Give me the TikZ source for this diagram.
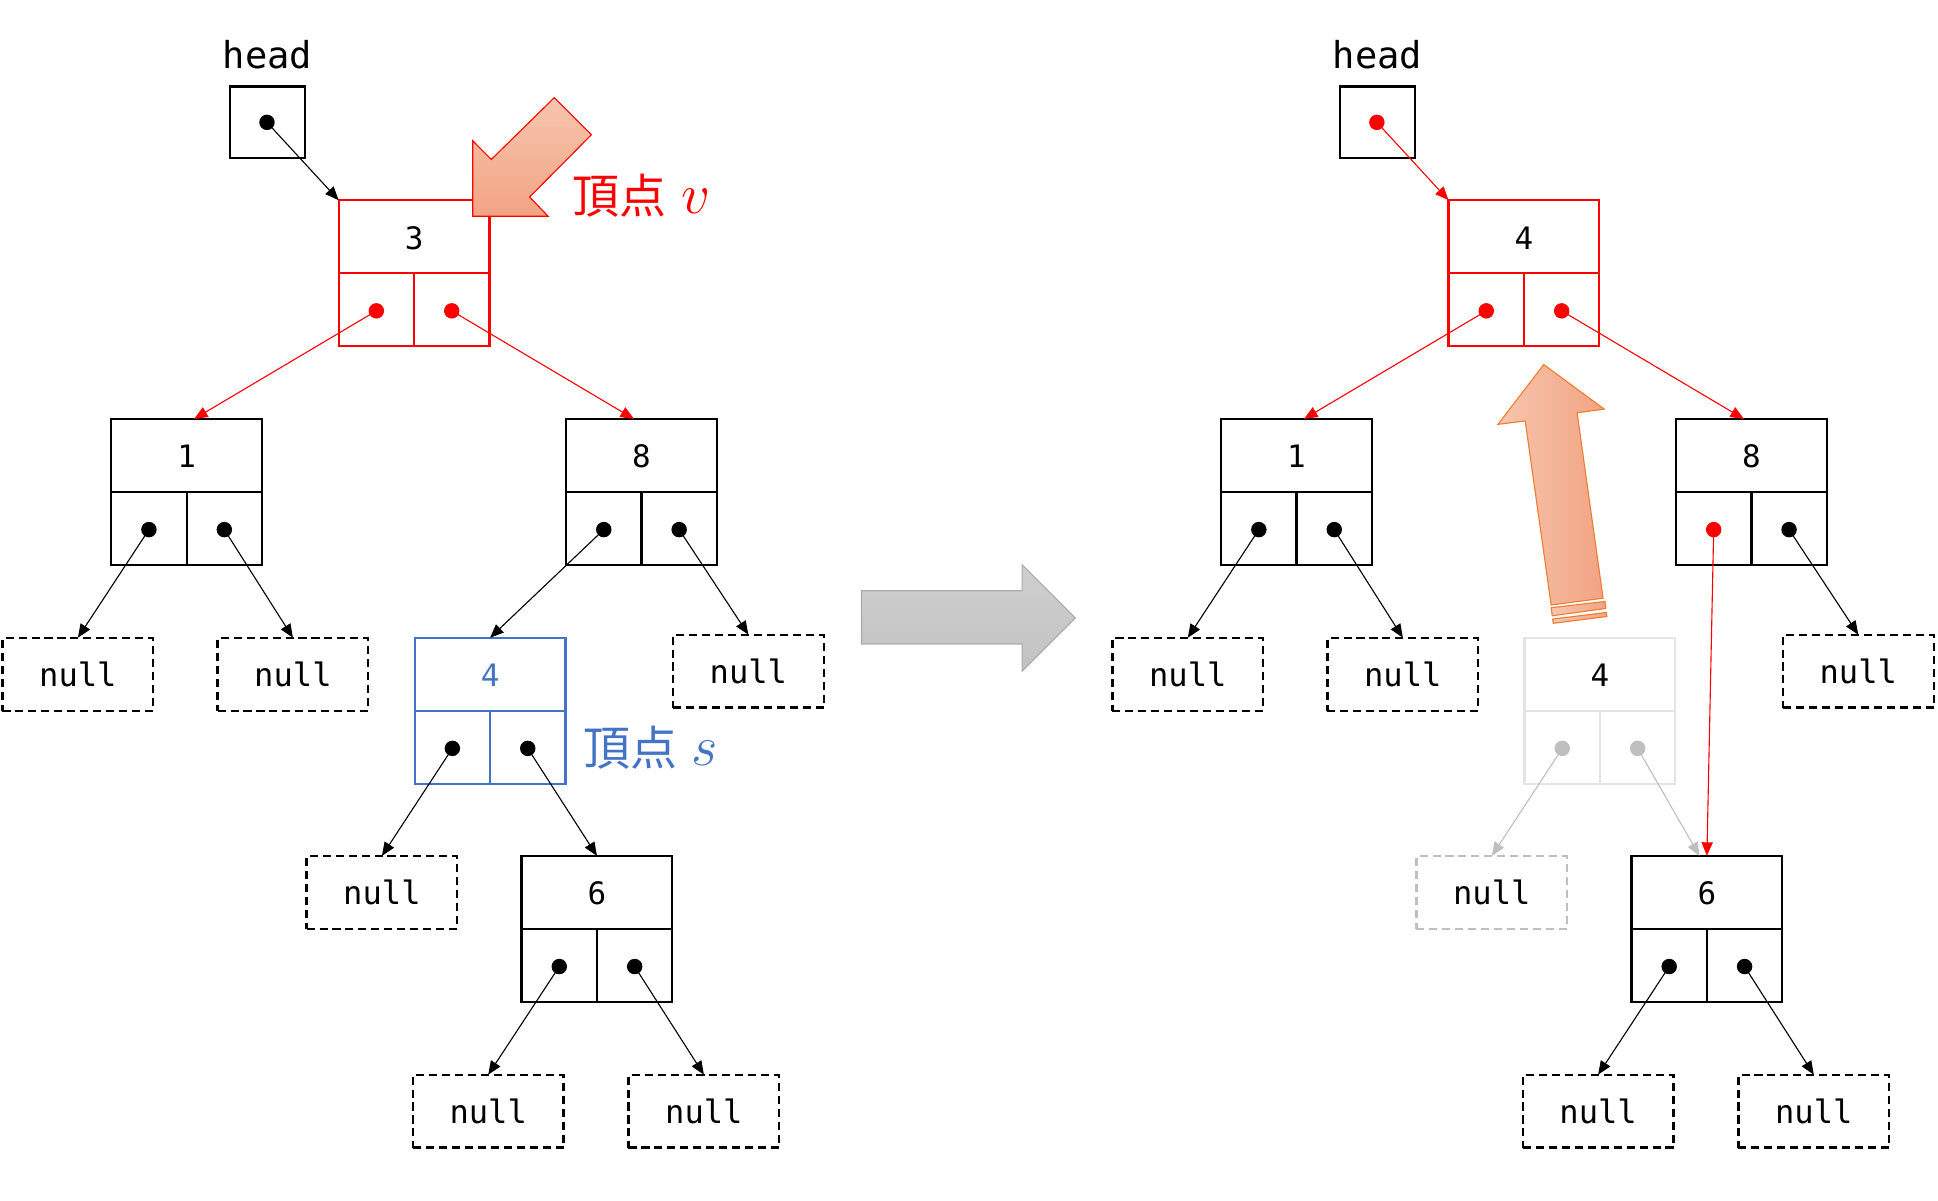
\documentclass[tikz,border=0pt]{standalone}
\usepackage{graphicx}
\usepackage{fontspec}
\setmonofont{DejaVu Sans Mono}
\newfontfamily\cjk{Noto Sans CJK JP}
\usetikzlibrary{arrows.meta,calc}
\definecolor{myred}{HTML}{FF0000}
\definecolor{myblue}{HTML}{4472C4}
\definecolor{fadebox}{HTML}{E4E4E4}
\definecolor{fadedot}{HTML}{BFBFBF}
\definecolor{arrline}{HTML}{ED7D31}
\definecolor{salmonA}{HTML}{F7C6AE}
\definecolor{salmonB}{HTML}{F2A383}
\definecolor{grayA}{HTML}{CFCFCF}
\definecolor{grayB}{HTML}{C2C2C2}
\definecolor{grayL}{HTML}{ABABAB}
\tikzset{
  tbox/.style={rectangle, minimum width=122pt, minimum height=118pt, inner sep=0pt, outer sep=0pt, line width=1.8pt},
  nullbox/.style={rectangle, draw, dash pattern=on 6.5pt off 4pt, line width=1.9pt, minimum width=122pt, minimum height=59pt, inner sep=0pt, outer sep=0pt, font=\ttfamily\fontsize{26}{30}\selectfont},
  valtxt/.style={font=\ttfamily\fontsize{25}{30}\selectfont, inner sep=0pt},
  headtxt/.style={font=\ttfamily\fontsize{30}{36}\selectfont, inner sep=0pt},
  ptr/.style={-{Triangle[length=11pt,width=9pt]}, line width=0.9pt},
  dotn/.style={circle, inner sep=0pt, minimum size=12.5pt, draw=none},
  headbox/.style={rectangle, draw, line width=1.8pt, minimum width=61pt, minimum height=58pt, inner sep=0pt, outer sep=0pt},
  lbl/.style={font=\cjk\fontsize{38}{44}\selectfont, inner sep=0pt, anchor=west},
}
\newcommand\bigmath[1]{\scalebox{1.85}{\fontsize{24.88}{28}\selectfont$#1$}}
% name, cx, cy, value, box colour, text colour, left dot colour, right dot colour
\newcommand\treenode[8]{%
  \node[tbox, draw=#5] (#1) at (#2,#3) {};
  \draw[#5, line width=1.8pt] (#1.west) -- (#1.east);
  \draw[#5, line width=1.8pt] (#1.center) -- (#1.south);
  \node[valtxt, text=#6] (#1-v) at ($(#1.north)!0.5!(#1.center)+(0,1)$) {#4};
  \node[dotn, fill=#7] (#1-l) at ($(#1.south west)!0.5!(#1.center)+(0,1)$) {};
  \node[dotn, fill=#8] (#1-r) at ($(#1.south east)!0.5!(#1.center)+(0,1)$) {};
}
\begin{document}
\begin{tikzpicture}[x=1pt,y=-1pt]
\useasboundingbox (0,0) rectangle (1568,971);

% ================= LEFT =================
\node[headtxt] (hl-t) at (216.5,44) {head};
\node[headbox] (hl) at (216.5,99) {};
\node[dotn, fill=black] (hl-d) at (216,99) {};

\treenode{a3}{335}{221}{3}{myred}{black}{myred}{myred}
\treenode{a1}{151}{398}{1}{black}{black}{black}{black}
\treenode{a8}{519}{398}{8}{black}{black}{black}{black}
\treenode{a4}{396.5}{575}{4}{myblue}{myblue}{black}{black}
\treenode{a6}{483}{751.5}{6}{black}{black}{black}{black}

\node[nullbox] (an1) at (63,545.5) {null};
\node[nullbox] (an2) at (237,545.5) {null};
\node[nullbox] (an3) at (605.5,543) {null};
\node[nullbox] (an4) at (309,722) {null};
\node[nullbox] (an5) at (395,899) {null};
\node[nullbox] (an6) at (569.5,899) {null};

\draw[ptr] (hl-d.center) -- (a3.north west);
\draw[ptr, myred] (a3-l.center) -- ([xshift=6pt]a1.north);
\draw[ptr, myred] (a3-r.center) -- ([xshift=-6pt]a8.north);
\draw[ptr] (a1-l.center) -- (an1.north);
\draw[ptr] (a1-r.center) -- (an2.north);
\draw[ptr] (a8-l.center) -- (a4.north);
\draw[ptr] (a8-r.center) -- (an3.north);
\draw[ptr] (a4-l.center) -- (an4.north);
\draw[ptr] (a4-r.center) -- (a6.north);
\draw[ptr] (a6-l.center) -- (an5.north);
\draw[ptr] (a6-r.center) -- (an6.north);

% big arrow pointing at vertex v
\path[draw=myred, line width=0.9pt, top color=salmonA, bottom color=salmonB, line join=miter]
  (448.5,79) -- (478.5,109) -- (428.5,159.4) -- (443.5,175) -- (382.5,175)
  -- (382.5,113.9) -- (397.5,129) -- cycle;

\node[lbl, text=myred] (lv) at (463,158) {頂点\hspace{12pt}\bigmath{v}};
\node[lbl, text=myblue] (ls) at (472,605) {頂点\hspace{11pt}\bigmath{s}};

% ================= MIDDLE =================
\path[draw=grayL, line width=0.9pt, top color=grayA, bottom color=grayB]
  (697,478) -- (827,478) -- (827,457) -- (870,500) -- (827,543) -- (827,521) -- (697,521) -- cycle;

% ================= RIGHT =================
\node[headtxt] (hr-t) at (1114.5,44) {head};
\node[headbox] (hr) at (1114.5,99) {};
\node[dotn, fill=myred] (hr-d) at (1114,99) {};

\treenode{b4}{1233}{221}{4}{myred}{black}{myred}{myred}
\treenode{b1}{1049}{398}{1}{black}{black}{black}{black}
\treenode{b8}{1417}{398}{8}{black}{black}{myred}{black}
\treenode{bf}{1294.5}{575}{4}{fadebox}{black}{fadedot}{fadedot}
\treenode{b6}{1381}{751.5}{6}{black}{black}{black}{black}

\node[nullbox] (bn1) at (961,545.5) {null};
\node[nullbox] (bn2) at (1135,545.5) {null};
\node[nullbox] (bn3) at (1503.5,543) {null};
\node[nullbox, draw=fadedot] (bn4) at (1207,722) {null};
\node[nullbox] (bn5) at (1293,899) {null};
\node[nullbox] (bn6) at (1467.5,899) {null};

\draw[ptr, myred] (hr-d.center) -- (b4.north west);
\draw[ptr, myred] (b4-l.center) -- ([xshift=6pt]b1.north);
\draw[ptr, myred] (b4-r.center) -- ([xshift=-6pt]b8.north);
\draw[ptr] (b1-l.center) -- (bn1.north);
\draw[ptr] (b1-r.center) -- (bn2.north);
\draw[ptr] (b8-r.center) -- (bn3.north);
\draw[ptr, fadedot] (bf-l.center) -- (bn4.north);
\draw[ptr, fadedot] (bf-r.center) -- ([xshift=-6pt]b6.north);
\draw[ptr, myred] (b8-l.center) -- (b6.north);
\draw[ptr] (b6-l.center) -- (bn5.north);
\draw[ptr] (b6-r.center) -- (bn6.north);

% big upward arrow
\path[draw=arrline, line width=0.9pt, left color=salmonA, right color=salmonB, line join=miter]
  (1249,295) -- (1298,331) -- (1276,334) -- (1297,484) -- (1255,489.5)
  -- (1234,340.6) -- (1212,343.3) -- cycle;
\path[draw=arrline, line width=0.9pt, left color=salmonA, right color=salmonB]
  (1255,491.7) -- (1298.6,486.6) -- (1299.2,492.3) -- (1255.9,498.2) -- cycle;
\path[draw=arrline, line width=0.9pt, left color=salmonA, right color=salmonB]
  (1256.2,500.9) -- (1299.8,495.5) -- (1300,498.8) -- (1256.7,504.3) -- cycle;
\end{tikzpicture}
\end{document}
